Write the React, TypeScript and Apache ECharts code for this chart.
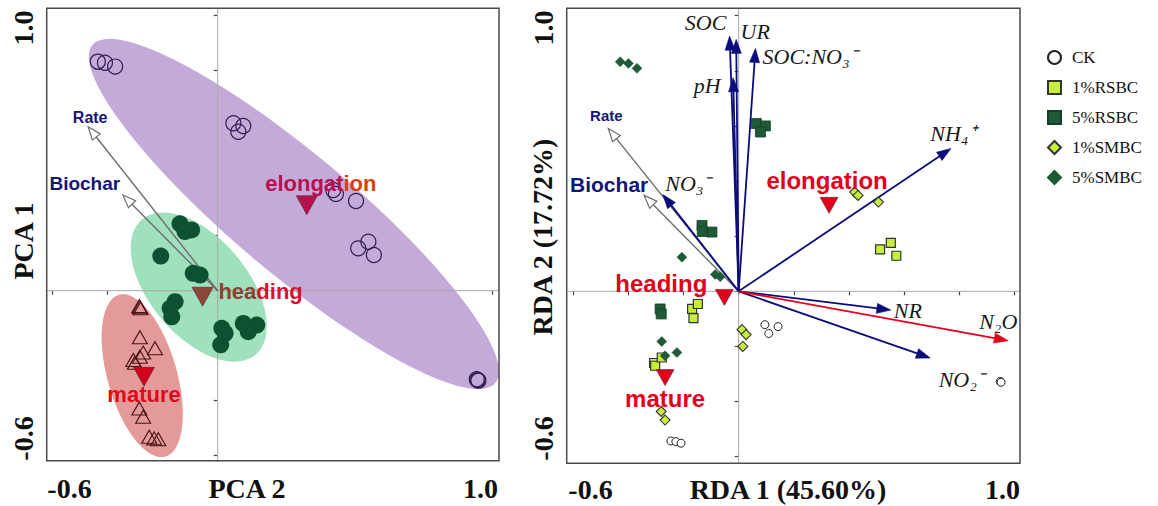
import React, { useEffect, useRef } from 'react';
import * as echarts from 'echarts';

// ================= PCA (left panel) data =================
const pcaXName = 'PCA 2';
const pcaYName = 'PCA 1';
const pcaXTickLabels = ['-0.6', '1.0'];
const pcaYTickLabels = ['-0.6', '1.0'];

// open circles (elongation samples)
const pcaElongation = [
  [-0.436, 0.833], [-0.41, 0.829], [-0.373, 0.815],
  [0.057, 0.609], [0.093, 0.599], [0.075, 0.578],
  [0.42, 0.366], [0.43, 0.352], [0.503, 0.326],
  [0.511, 0.154], [0.548, 0.178], [0.568, 0.13],
  [0.942, -0.322], [0.948, -0.327], [0.945, -0.325],
];
// filled green circles (heading samples)
const pcaHeading = [
  [-0.137, 0.243], [-0.095, 0.221], [-0.119, 0.215],
  [-0.207, 0.126],
  [-0.089, 0.063], [-0.064, 0.057],
  [-0.155, -0.04], [-0.173, -0.064], [-0.167, -0.095],
  [0.015, -0.137], [0.027, -0.155], [0.011, -0.197],
  [0.093, -0.119], [0.142, -0.125], [0.111, -0.149],
];
// open triangles (mature samples)
const pcaMature = [
  [-0.285, -0.056], [-0.283, -0.06], [-0.28, -0.064],
  [-0.283, -0.169],
  [-0.228, -0.209], [-0.271, -0.225], [-0.283, -0.24],
  [-0.307, -0.252], [-0.301, -0.262],
  [-0.285, -0.428], [-0.271, -0.458],
  [-0.249, -0.531], [-0.231, -0.537], [-0.216, -0.54],
];
const pcaStageNames = ['elongation', 'heading', 'mature'];
const pcaCentroids = [[0.324, 0.311], [-0.055, -0.022], [-0.268, -0.313]];
// ellipses: centre x, centre y, semi-major, semi-minor, angle (deg)
const pcaEllipses = [
  [0.277, 0.279, 0.956, 0.218, -40],
  [-0.069, 0.013, 0.321, 0.178, -50],
  [-0.2745, -0.309, 0.306, 0.126, -74],
];
const pcaVectorNames = ['Rate', 'Biochar'];
const pcaVectors = [[-0.471, 0.596], [-0.345, 0.348]];

// ================= RDA (right panel) data =================
const rdaXName = 'RDA 1 (45.60%)';
const rdaYName = 'RDA 2 (17.72%)';
const rdaXTickLabels = ['-0.6', '1.0'];
const rdaYTickLabels = ['-0.6', '1.0'];

const rdaGroupNames = ['CK', '1%RSBC', '5%RSBC', '1%SMBC', '5%SMBC'];
const rdaCK = [
  [0.095, -0.121], [0.109, -0.153], [0.143, -0.128],
  [-0.246, -0.543], [-0.228, -0.545], [-0.209, -0.551],
  [0.949, -0.327], [0.952, -0.33],
];
const rda1RSBC = [
  [0.513, 0.152], [0.552, 0.176], [0.572, 0.129],
  [-0.169, -0.064], [-0.148, -0.046], [-0.164, -0.097],
  [-0.307, -0.26], [-0.303, -0.27], [-0.279, -0.24],
];
const rda5RSBC = [
  [0.064, 0.609], [0.097, 0.6], [0.079, 0.578],
  [-0.133, 0.239], [-0.097, 0.215], [-0.132, 0.217],
  [-0.285, -0.064], [-0.281, -0.082],
];
const rda1SMBC = [
  [0.421, 0.36], [0.433, 0.348], [0.507, 0.324],
  [0.012, -0.139], [0.027, -0.157], [0.015, -0.2],
  [-0.281, -0.436], [-0.267, -0.467],
];
const rda5SMBC = [
  [-0.43, 0.833], [-0.4, 0.827], [-0.369, 0.809],
  [-0.206, 0.124], [-0.085, 0.061], [-0.067, 0.053],
  [-0.279, -0.182], [-0.267, -0.234], [-0.224, -0.222],
];
const rdaStageNames = ['elongation', 'heading', 'mature'];
const rdaCentroids = [[0.328, 0.312], [-0.052, -0.022], [-0.267, -0.313]];

const rdaVectorNames = ['SOC', 'UR', 'SOC:NO₃⁻', 'pH', 'NO₃⁻', 'NH₄⁺', 'NR', 'NO₂⁻'];
const rdaVectors = [
  [-0.033, 0.926], [-0.009, 0.914], [0.061, 0.881], [-0.02, 0.775],
  [-0.275, 0.351], [0.77, 0.518], [0.552, -0.068], [0.695, -0.242],
];
const rdaResponseNames = ['N₂O'];
const rdaResponse = [[0.978, -0.179]];
const rdaFactorNames = ['Rate', 'Biochar'];
const rdaFactors = [[-0.473, 0.591], [-0.343, 0.348]];

// ================= styles (pixel offsets etc.) =================
const pcaEllipseColors = ['#c4aad9', '#9fe0bd', '#e59a9a'];
const pcaVectorLabelOffsets: any[] = [[2, -9, 'center'], [-38, -12, 'center']];
const rdaVectorLabelOffsets: any[] = [
  [-24, -14, 'center'], [19, -8, 'center'], [7, 8, 'left'], [-26, 8, 'center'],
  [25, -11, 'center'], [2, -15, 'center'], [3, 0, 'left'], [31, 21, 'center'],
];
const rdaResponseLabelOffsets: any[] = [[-10, -19, 'center']];
const rdaFactorLabelOffsets: any[] = [[-2, -13, 'center'], [-35, -11, 'center']];
const pcaCentroidLabel: any[] = [
  { offset: [14, -22], fmt: '{a|elongat}{b|ion}' },
  { offset: [58, -5], fmt: '{c|hea}{d|ding}' },
  { offset: [0, 18], fmt: '{e|mature}' },
];
const rdaCentroidLabelOffsets = [[-2, -25], [-63, -14], [0, 21]];

const SERIF = 'Liberation Serif';
const SANS = 'Liberation Sans';
const DOWN_TRI = 'path://M0,0L20,0L10,18Z';

const L = { xAxisIndex: 0, yAxisIndex: 0 };
const R = { xAxisIndex: 1, yAxisIndex: 1 };

function ellipseSeries(axes: any, ellipses: number[][], colors: string[]) {
  return {
    type: 'custom', ...axes, silent: true, clip: false, z: 1,
    data: ellipses,
    encode: { x: 0, y: 1 },
    renderItem: (params: any, api: any) => {
      const cx = api.value(0), cy = api.value(1), a = api.value(2), b = api.value(3);
      const ang = (api.value(4) * Math.PI) / 180;
      const points: number[][] = [];
      const n = 120;
      for (let i = 0; i < n; i++) {
        const t = (i / n) * Math.PI * 2;
        const ux = a * Math.cos(t), uy = b * Math.sin(t);
        points.push(api.coord([cx + ux * Math.cos(ang) - uy * Math.sin(ang), cy + ux * Math.sin(ang) + uy * Math.cos(ang)]));
      }
      return { type: 'polygon', shape: { points }, style: { fill: colors[params.dataIndex] } };
    },
  };
}

function zeroLineSeries(axes: any) {
  return {
    type: 'custom', ...axes, silent: true, clip: false, z: 2,
    data: [[0, 0]],
    encode: { x: 0, y: 1 },
    renderItem: (params: any, api: any) => {
      const o = api.coord([api.value(0), api.value(1)]);
      const cs = params.coordSys;
      const st = { stroke: '#a8a8a8', lineWidth: 1 };
      return {
        type: 'group',
        children: [
          { type: 'line', shape: { x1: o[0], y1: cs.y - 7, x2: o[0], y2: cs.y + cs.height + 6 }, style: st },
          { type: 'line', shape: { x1: cs.x - 6, y1: o[1], x2: cs.x + cs.width + 6, y2: o[1] }, style: st },
        ],
      };
    },
  };
}

function arrowSeries(axes: any, tips: number[][], names: string[], offsets: any[], o: any) {
  return {
    type: 'custom', ...axes, silent: true, clip: false, z: 3,
    data: tips.map((t) => [0, 0, t[0], t[1]]),
    encode: { x: [0, 2], y: [1, 3] },
    renderItem: (params: any, api: any) => {
      const i = params.dataIndex;
      const p0 = api.coord([api.value(0), api.value(1)]);
      const p1 = api.coord([api.value(2), api.value(3)]);
      const dx = p1[0] - p0[0], dy = p1[1] - p0[1];
      const len = Math.hypot(dx, dy) || 1;
      const ux = dx / len, uy = dy / len;
      const bx = p1[0] - ux * o.headLen, by = p1[1] - uy * o.headLen;
      const left = [bx - uy * o.headHalf, by + ux * o.headHalf];
      const right = [bx + uy * o.headHalf, by - ux * o.headHalf];
      const off = offsets[i];
      const endX = o.open ? bx : p1[0] - ux * o.headLen * 0.5;
      const endY = o.open ? by : p1[1] - uy * o.headLen * 0.5;
      return {
        type: 'group',
        children: [
          { type: 'line', shape: { x1: p0[0], y1: p0[1], x2: endX, y2: endY }, style: { stroke: o.color, lineWidth: o.width } },
          {
            type: 'polygon', shape: { points: [p1, left, right] },
            style: { fill: o.open ? '#ffffff' : o.color, stroke: o.color, lineWidth: o.open ? 1.2 : 0.6 },
          },
          {
            type: 'text', x: p1[0] + off[0], y: p1[1] + off[1],
            style: {
              text: names[i], fill: o.textColor, fontSize: o.fontSizes ? o.fontSizes[i] : o.fontSize,
              fontFamily: o.fontFamily, fontWeight: o.fontWeight, fontStyle: o.fontStyle,
              align: off[2], verticalAlign: 'middle', textAlign: off[2], textVerticalAlign: 'middle',
            },
          },
        ],
      };
    },
  };
}

function buildOption() {
  const textBase = (text: string, x: number, y: number, rot = 0) => ({
    type: 'text', x, y, rotation: rot, silent: true,
    style: {
      text, fill: '#111', fontFamily: SERIF, fontWeight: 'bold', fontSize: 28,
      align: 'center', verticalAlign: 'middle', textAlign: 'center', textVerticalAlign: 'middle',
    },
  });
  const frame = (x: number, y: number, w: number, h: number) => ({
    type: 'rect', shape: { x, y, width: w, height: h }, silent: true, z: 100,
    style: { fill: 'none', stroke: '#4a4a4a', lineWidth: 1.5 },
  });

  const axisCommon = {
    type: 'value', min: -0.6, max: 1.0, interval: 0.2,
    axisLine: { show: false },
    axisTick: { show: true, inside: false, length: 4, lineStyle: { color: '#444', width: 1.2 } },
    axisLabel: { show: false },
    splitLine: { show: false },
  };

  const centroidSeries = (axes: any, pts: number[][], names: string[], fills: string[], size: number[], labels: any[], rich: any) => ({
    type: 'scatter', ...axes, z: 6, symbol: DOWN_TRI, symbolSize: size,
    itemStyle: { borderColor: '#5a2030', borderWidth: 0.6, opacity: 1 },
    data: pts.map((p, i) => ({
      name: names[i], value: p,
      itemStyle: { color: fills[i], opacity: 1 },
      label: { offset: labels[i].offset, formatter: labels[i].fmt },
    })),
    label: { show: true, position: 'inside', rich },
  });

  const bold22 = { fontFamily: SANS, fontWeight: 'bold', fontSize: 22 };
  const bold24 = { fontFamily: SANS, fontWeight: 'bold', fontSize: 24, color: '#e3001b' };

  return {
    animation: false,
    backgroundColor: '#ffffff',
    grid: [
      { left: 52.7, top: 15.7, width: 440, height: 440 },
      { left: 573.3, top: 15.7, width: 441, height: 441 },
    ],
    xAxis: [
      { ...axisCommon, gridIndex: 0, offset: 5 },
      { ...axisCommon, gridIndex: 1, offset: 6.6 },
    ],
    yAxis: [
      { ...axisCommon, gridIndex: 0, offset: 6 },
      { ...axisCommon, gridIndex: 1, offset: 6.6 },
    ],
    legend: {
      data: rdaGroupNames, orient: 'vertical', left: 1042, top: 44,
      itemWidth: 13, itemHeight: 13, itemGap: 13, selectedMode: false,
      textStyle: { fontFamily: SERIF, fontSize: 17, color: '#111', lineHeight: 14, padding: [0, 0, 0, 6] },
    },
    graphic: [
      frame(46.7, 8.3, 452.3, 452.4),
      frame(566.7, 8.3, 453.3, 455),
      textBase(pcaXTickLabels[0], 69.5, 488.5),
      textBase(pcaXTickLabels[1], 480.5, 488.5),
      textBase(pcaYTickLabels[1], 23, 28, Math.PI / 2),
      textBase(pcaYTickLabels[0], 23, 438.5, Math.PI / 2),
      textBase(pcaXName, 247, 488.5),
      textBase(pcaYName, 23, 241, Math.PI / 2),
      textBase(rdaXTickLabels[0], 590.5, 489),
      textBase(rdaXTickLabels[1], 1002.5, 489),
      textBase(rdaYTickLabels[1], 543, 28, Math.PI / 2),
      textBase(rdaYTickLabels[0], 543, 438.5, Math.PI / 2),
      textBase(rdaXName, 788, 489),
      textBase(rdaYName, 542, 237, Math.PI / 2),
    ],
    series: [
      // ----- left panel -----
      ellipseSeries(L, pcaEllipses, pcaEllipseColors),
      zeroLineSeries(L),
      arrowSeries(L, pcaVectors, pcaVectorNames, pcaVectorLabelOffsets, {
        color: '#6e6e6e', width: 1.4, open: true, headLen: 13, headHalf: 5,
        textColor: '#14147a', fontFamily: SANS, fontWeight: 'bold', fontStyle: 'normal', fontSizes: [16, 19],
      }),
      {
        name: 'PCA elongation', type: 'scatter', ...L, z: 5, symbol: 'circle', symbolSize: 15,
        itemStyle: { color: 'rgba(0,0,0,0)', borderColor: '#2e1d55', borderWidth: 1.2, opacity: 1 },
        data: pcaElongation,
      },
      {
        name: 'PCA heading', type: 'scatter', ...L, z: 5, symbol: 'circle', symbolSize: 17,
        itemStyle: { color: '#0c5230', opacity: 1 },
        data: pcaHeading,
      },
      {
        name: 'PCA mature', type: 'scatter', ...L, z: 5, symbol: 'triangle', symbolSize: [15, 13],
        itemStyle: { color: 'rgba(0,0,0,0)', borderColor: '#4a1515', borderWidth: 1.1, opacity: 1 },
        data: pcaMature,
      },
      centroidSeries(L, pcaCentroids, pcaStageNames, ['#b3124e', '#8b4838', '#d2001a'], [21, 19], pcaCentroidLabel, {
        a: { ...bold22, color: '#b5124f' }, b: { ...bold22, color: '#d9400f' },
        c: { ...bold22, color: '#8a4236' }, d: { ...bold22, color: '#d9112f' },
        e: { ...bold22, color: '#dd0a1e' },
      }),
      // ----- right panel -----
      zeroLineSeries(R),
      arrowSeries(R, rdaFactors, rdaFactorNames, rdaFactorLabelOffsets, {
        color: '#6e6e6e', width: 1.4, open: true, headLen: 13, headHalf: 5,
        textColor: '#14147a', fontFamily: SANS, fontWeight: 'bold', fontStyle: 'normal', fontSizes: [15, 21],
      }),
      arrowSeries(R, rdaVectors, rdaVectorNames, rdaVectorLabelOffsets, {
        color: '#0b0b7a', width: 1.8, open: false, headLen: 14, headHalf: 5,
        textColor: '#1a1a1a', fontFamily: SERIF, fontWeight: 'normal', fontStyle: 'italic', fontSize: 22,
      }),
      arrowSeries(R, rdaResponse, rdaResponseNames, rdaResponseLabelOffsets, {
        color: '#e3001b', width: 1.8, open: false, headLen: 14, headHalf: 5,
        textColor: '#1a1a1a', fontFamily: SERIF, fontWeight: 'normal', fontStyle: 'italic', fontSize: 22,
      }),
      {
        name: rdaGroupNames[0], type: 'scatter', ...R, z: 5, symbol: 'circle', symbolSize: 8,
        itemStyle: { color: '#ffffff', borderColor: '#222', borderWidth: 1, opacity: 1 },
        data: rdaCK,
      },
      {
        name: rdaGroupNames[1], type: 'scatter', ...R, z: 5, symbol: 'rect', symbolSize: 9,
        itemStyle: { color: '#c6ef3a', borderColor: '#333', borderWidth: 1.2, opacity: 1 },
        data: rda1RSBC,
      },
      {
        name: rdaGroupNames[2], type: 'scatter', ...R, z: 5, symbol: 'rect', symbolSize: 10,
        itemStyle: { color: '#1f5a36', borderColor: '#173f27', borderWidth: 0.8, opacity: 1 },
        data: rda5RSBC,
      },
      {
        name: rdaGroupNames[3], type: 'scatter', ...R, z: 5, symbol: 'diamond', symbolSize: 10,
        itemStyle: { color: '#c6ef3a', borderColor: '#333', borderWidth: 1.1, opacity: 1 },
        data: rda1SMBC,
      },
      {
        name: rdaGroupNames[4], type: 'scatter', ...R, z: 5, symbol: 'diamond', symbolSize: 10,
        itemStyle: { color: '#1f5a36', borderColor: '#1f5a36', borderWidth: 0.5, opacity: 1 },
        data: rda5SMBC,
      },
      centroidSeries(R, rdaCentroids, rdaStageNames, ['#e3001b', '#e3001b', '#e3001b'], [18, 16],
        rdaCentroidLabelOffsets.map((off, i) => ({ offset: off, fmt: '{r|' + rdaStageNames[i] + '}' })),
        { r: bold24 }),
    ],
  };
}

export default function App() {
  const ref = useRef<HTMLDivElement>(null);
  useEffect(() => {
    if (!ref.current) return;
    const chart = echarts.init(ref.current, undefined, { renderer: 'svg' });
    chart.setOption(buildOption() as any);
    return () => chart.dispose();
  }, []);
  return (
    <div
      ref={ref}
      style={{ position: 'fixed', left: 0, top: 0, width: 1158, height: 506, background: '#fff' }}
    />
  );
}
